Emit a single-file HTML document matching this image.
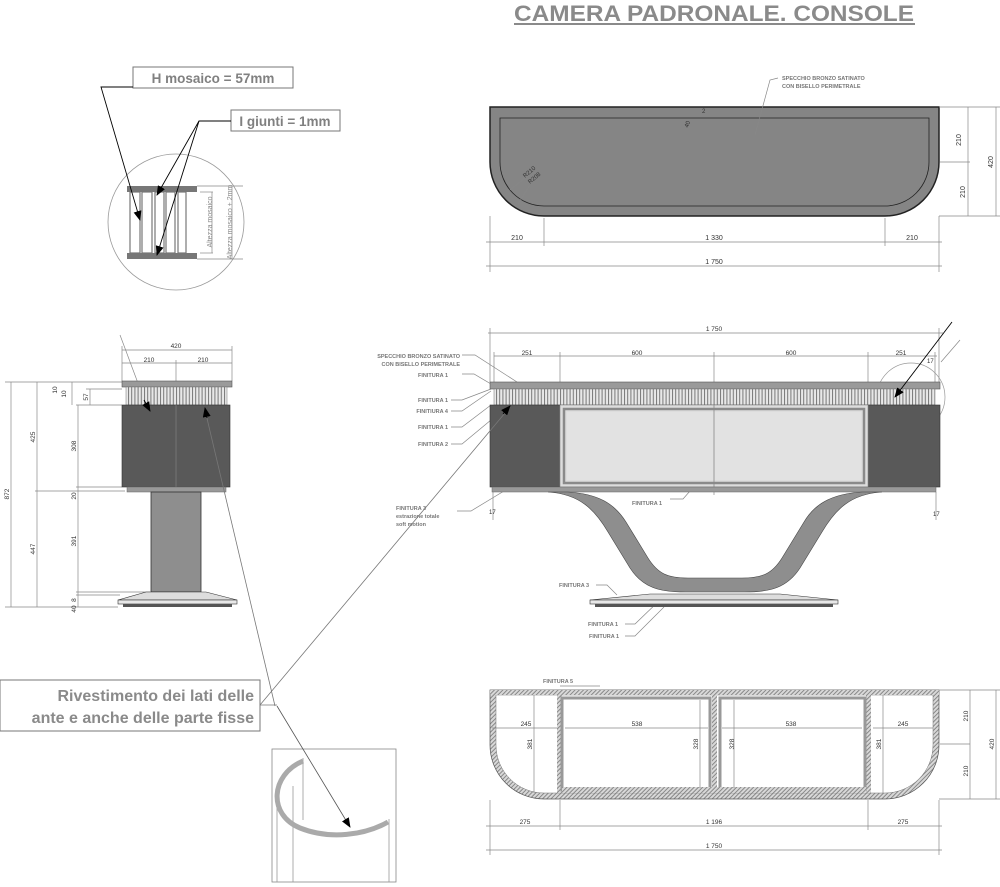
<!DOCTYPE html>
<html><head><meta charset="utf-8"><style>
html,body{margin:0;padding:0;background:#fff;}
svg{display:block;font-family:"Liberation Sans",Arial,sans-serif;}
</style></head><body>
<svg width="1000" height="887" viewBox="0 0 1000 887" xmlns="http://www.w3.org/2000/svg">
<defs>
<pattern id="flute" width="3.2" height="20" patternUnits="userSpaceOnUse">
<rect width="3.2" height="20" fill="#e8e8e8"/><rect x="0" width="1" height="20" fill="#777"/>
</pattern>
<pattern id="hatch" width="3" height="3" patternUnits="userSpaceOnUse" patternTransform="rotate(45)">
<rect width="3" height="3" fill="#d8d8d8"/><rect width="1" height="3" fill="#888"/>
</pattern>
<marker id="ar" markerWidth="10" markerHeight="8" refX="9" refY="4" orient="auto" markerUnits="userSpaceOnUse"><path d="M0,0 L10,4 L0,8 Z" fill="#000"/></marker>
</defs>

<text x="514" y="21" font-size="22" font-weight="bold" fill="#8a8a8a" textLength="400" lengthAdjust="spacingAndGlyphs">CAMERA PADRONALE. CONSOLE</text>
<rect x="514" y="23" width="401" height="2" fill="#8a8a8a"/>

<!-- ===== TOP VIEW ===== -->
<path d="M490,107 L939,107 L939,162 A54,54 0 0 1 885,216 L544,216 A54,54 0 0 1 490,162 Z" fill="#858585" stroke="#222" stroke-width="1.5"/>
<path d="M500,118 L929,118 L929,162 A44,44 0 0 1 885,206 L544,206 A44,44 0 0 1 500,162 Z" fill="none" stroke="#222" stroke-width="0.8"/>
<g fill="#777" font-size="5.5" font-weight="bold">
<text x="782" y="80">SPECCHIO BRONZO SATINATO</text>
<text x="782" y="88">CON BISELLO  PERIMETRALE</text>
</g>
<g stroke="#888" stroke-width="0.7" fill="none">
<path d="M778,78 L770,80 L755,135"/>
<line x1="939" y1="107" x2="1000" y2="107"/><line x1="939" y1="216" x2="1000" y2="216"/>
<line x1="940" y1="162" x2="970" y2="162"/>
<line x1="968" y1="107" x2="968" y2="216"/><line x1="996" y1="107" x2="996" y2="216"/>
<line x1="544" y1="218" x2="544" y2="246"/><line x1="885" y1="218" x2="885" y2="246"/>
<line x1="490" y1="216" x2="490" y2="272"/><line x1="939" y1="216" x2="939" y2="272"/>
<line x1="486" y1="242" x2="942" y2="242"/><line x1="486" y1="266" x2="942" y2="266"/>
<line x1="510" y1="190" x2="525" y2="178"/><line x1="518" y1="204" x2="530" y2="185"/>
</g>
<g fill="#333" font-size="7">
<text x="961" y="140" transform="rotate(-90 961 140)" text-anchor="middle">210</text>
<text x="961" y="188" transform="rotate(-90 965 188)" text-anchor="middle">210</text>
<text x="993" y="162" transform="rotate(-90 993 162)" text-anchor="middle">420</text>
<text x="517" y="240" text-anchor="middle">210</text>
<text x="714" y="240" text-anchor="middle">1 330</text>
<text x="912" y="240" text-anchor="middle">210</text>
<text x="714" y="264" text-anchor="middle">1 750</text>
<text x="525" y="178" font-size="6" transform="rotate(-40 525 178)">R210</text>
<text x="530" y="184" font-size="6" transform="rotate(-40 530 184)">R208</text>
<text x="688" y="128" font-size="6" transform="rotate(-70 688 128)">40</text>
<text x="702" y="113" font-size="6">2</text>
</g>

<!-- ===== DETAIL CIRCLE TOP LEFT ===== -->
<circle cx="176" cy="222" r="68" fill="#fff" stroke="#999" stroke-width="0.8"/>
<g>
<rect x="127" y="186" width="70" height="6" fill="#777"/>
<rect x="127" y="253" width="70" height="6" fill="#777"/>
<line x1="197" y1="186" x2="243" y2="186" stroke="#888" stroke-width="0.7"/>
<line x1="197" y1="259" x2="243" y2="259" stroke="#888" stroke-width="0.7"/>
<g fill="none" stroke="#777" stroke-width="1.2">
<rect x="130" y="192" width="10" height="61"/><rect x="142" y="192" width="10" height="61"/>
<rect x="155" y="192" width="9" height="61"/><rect x="166" y="192" width="9" height="61"/>
<rect x="178" y="192" width="8" height="61"/>
</g>
<line x1="200" y1="192" x2="213" y2="192" stroke="#888" stroke-width="0.7"/>
<line x1="200" y1="253" x2="213" y2="253" stroke="#888" stroke-width="0.7"/>
<line x1="212" y1="192" x2="212" y2="253" stroke="#888" stroke-width="0.7"/>
<line x1="232" y1="186" x2="232" y2="259" stroke="#888" stroke-width="0.7"/>
<text x="212" y="222" font-size="7" fill="#888" transform="rotate(-90 212 222)" text-anchor="middle">Altezza mosaico</text>
<text x="232" y="222" font-size="7" fill="#888" transform="rotate(-90 232 222)" text-anchor="middle">Altezza mosaico + 2mm</text>
</g>
<rect x="133" y="67" width="160" height="21" fill="#fff" stroke="#777" stroke-width="1"/>
<text x="213" y="83" font-size="13.5" font-weight="bold" fill="#808080" text-anchor="middle">H mosaico = 57mm</text>
<rect x="231" y="110" width="109" height="21" fill="#fff" stroke="#777" stroke-width="1"/>
<text x="285" y="126" font-size="13.5" font-weight="bold" fill="#808080" text-anchor="middle">I giunti = 1mm</text>
<g stroke="#000" stroke-width="0.9" fill="none">
<polyline points="133,87 101,87 140,220" marker-end="url(#ar)"/>
<polyline points="231,121 199,121 157,195" marker-end="url(#ar)"/>
<line x1="199" y1="121" x2="157" y2="255" marker-end="url(#ar)"/>
</g>

<!-- ===== SIDE VIEW ===== -->
<g stroke="#888" stroke-width="0.7" fill="none">
<line x1="122" y1="350" x2="232" y2="350"/><line x1="122" y1="363" x2="232" y2="363"/>
<line x1="122" y1="346" x2="122" y2="381"/><line x1="232" y1="346" x2="232" y2="381"/><line x1="176" y1="360" x2="176" y2="487"/>
<line x1="11" y1="382" x2="11" y2="607"/><line x1="37" y1="382" x2="37" y2="607"/>
<line x1="78" y1="405" x2="78" y2="607"/><line x1="90" y1="389" x2="90" y2="405"/>
<line x1="72" y1="382" x2="72" y2="405"/>
<line x1="5" y1="382" x2="122" y2="382"/><line x1="5" y1="607" x2="118" y2="607"/>
<line x1="35" y1="491" x2="125" y2="491"/>
<line x1="76" y1="405" x2="122" y2="405"/><line x1="76" y1="487" x2="122" y2="487"/>
<line x1="76" y1="592" x2="150" y2="592"/><line x1="76" y1="595" x2="120" y2="595"/>
<line x1="86" y1="389" x2="122" y2="389"/>
<line x1="120" y1="335" x2="148" y2="410"/>
</g>
<g fill="#333" font-size="6.5">
<text x="176" y="348" text-anchor="middle">420</text>
<text x="149" y="362" text-anchor="middle">210</text><text x="203" y="362" text-anchor="middle">210</text>
<text x="9" y="494" transform="rotate(-90 9 494)" text-anchor="middle">872</text>
<text x="35" y="437" transform="rotate(-90 35 437)" text-anchor="middle">425</text>
<text x="35" y="549" transform="rotate(-90 35 549)" text-anchor="middle">447</text>
<text x="76" y="446" transform="rotate(-90 76 446)" text-anchor="middle">308</text>
<text x="76" y="541" transform="rotate(-90 76 541)" text-anchor="middle">391</text>
<text x="76" y="496" transform="rotate(-90 76 496)" text-anchor="middle">20</text>
<text x="88" y="397" transform="rotate(-90 88 397)" text-anchor="middle">57</text>
<text x="57" y="390" transform="rotate(-90 57 390)" text-anchor="middle">10</text>
<text x="66" y="394" transform="rotate(-90 66 394)" text-anchor="middle">10</text>
<text x="76" y="600" transform="rotate(-90 76 600)" text-anchor="middle">8</text>
<text x="76" y="609" transform="rotate(-90 76 609)" text-anchor="middle">40</text>
</g>
<rect x="122" y="381" width="110" height="6" fill="#9a9a9a" stroke="#555" stroke-width="0.6"/>
<rect x="126" y="387" width="101" height="18" fill="url(#flute)" stroke="#777" stroke-width="0.5"/>
<rect x="122" y="405" width="108" height="82" fill="#595959" stroke="#333" stroke-width="0.6"/>
<line x1="176" y1="405" x2="176" y2="487" stroke="#888" stroke-width="0.6"/>
<rect x="127" y="487" width="99" height="5" fill="#999" stroke="#666" stroke-width="0.5"/>
<rect x="151" y="492" width="50" height="100" fill="#8e8e8e" stroke="#333" stroke-width="0.8"/>
<path d="M146,592 L206,592 L237,600 L118,600 Z" fill="#ddd" stroke="#333" stroke-width="0.6"/>
<rect x="118" y="600" width="119" height="4" fill="#e8e8e8" stroke="#333" stroke-width="0.6"/>
<rect x="123" y="604" width="109" height="3" fill="#555"/>
<g stroke="#000" stroke-width="0.9"><line x1="144" y1="400" x2="150" y2="411" marker-end="url(#ar)"/></g>

<!-- ===== FRONT VIEW ===== -->
<g stroke="#888" stroke-width="0.7" fill="none">
<line x1="488" y1="333" x2="943" y2="333"/><line x1="494" y1="356" x2="937" y2="356"/>
<line x1="490" y1="328" x2="490" y2="382"/><line x1="939" y1="328" x2="939" y2="382"/>
<line x1="494" y1="352" x2="494" y2="382"/><line x1="560" y1="352" x2="560" y2="405"/>
<line x1="714" y1="352" x2="714" y2="495"/><line x1="868" y1="352" x2="868" y2="405"/>
<line x1="935" y1="352" x2="935" y2="382"/>
<line x1="493" y1="492" x2="493" y2="520"/><line x1="936" y1="492" x2="936" y2="520"/>
<circle cx="911" cy="397" r="34" stroke="#999"/>
<line x1="941" y1="362" x2="960" y2="340"/>
<path d="M462,355 L475,355 L517,382"/>
<path d="M462,374 L474,374 L491,384"/>
<path d="M451,400 L462,400 L491,389"/>
<path d="M451,411 L462,411 L491,391"/>
<path d="M451,427 L462,427 L491,405"/>
<path d="M451,444 L462,444 L497,415"/>
<path d="M457,511 L471,511 L575,448"/>
<path d="M670,499 L683,499 L690,491"/>
<path d="M596,585 L607,585 L617,595"/>
<path d="M625,624 L635,624 L662,598"/>
<path d="M625,636 L635,636 L664,607"/>
</g>
<g fill="#333" font-size="6.5">
<text x="714" y="331" text-anchor="middle">1 750</text>
<text x="527" y="355" text-anchor="middle">251</text>
<text x="637" y="355" text-anchor="middle">600</text>
<text x="791" y="355" text-anchor="middle">600</text>
<text x="901" y="355" text-anchor="middle">251</text>
<text x="927" y="363" font-size="6">17</text>
<text x="929" y="399" font-size="6">3</text>
<text x="489" y="514" font-size="6">17</text><text x="933" y="516" font-size="6">17</text>
</g>
<g fill="#777" font-size="5.5" font-weight="bold">
<text x="460" y="358" text-anchor="end">SPECCHIO BRONZO SATINATO</text>
<text x="460" y="366" text-anchor="end">CON BISELLO  PERIMETRALE</text>
<text x="448" y="377" text-anchor="end">FINITURA 1</text>
<text x="448" y="402" text-anchor="end">FINITURA 1</text>
<text x="448" y="413" text-anchor="end">FINITIURA 4</text>
<text x="448" y="429" text-anchor="end">FINITURA 1</text>
<text x="448" y="446" text-anchor="end">FINITURA 2</text>
<text x="396" y="510">FINITURA 3</text>
<text x="396" y="518">estrazione totale</text>
<text x="396" y="526">soft motion</text>
<text x="632" y="505">FINITURA 1</text>
<text x="559" y="587">FINITURA 3</text>
<text x="588" y="626">FINITURA 1</text>
<text x="589" y="638">FINITURA 1</text>
</g>
<rect x="490" y="382" width="450" height="7" fill="#9a9a9a" stroke="#555" stroke-width="0.6"/>
<rect x="494" y="389" width="441" height="16" fill="url(#flute)" stroke="#777" stroke-width="0.5"/>
<rect x="490" y="405" width="450" height="82" fill="#595959" stroke="#333" stroke-width="0.6"/>
<rect x="560" y="405" width="308" height="82" fill="#ddd" stroke="#888" stroke-width="0.6"/>
<rect x="564" y="409" width="300" height="74" fill="none" stroke="#8a8a8a" stroke-width="2.5"/>
<rect x="567" y="412" width="294" height="68" fill="#e2e2e2"/>
<line x1="714" y1="405" x2="714" y2="487" stroke="#888" stroke-width="0.8"/>
<rect x="492" y="487" width="444" height="5" fill="#999" stroke="#666" stroke-width="0.5"/>
<path d="M548,492 C580,494 595,510 608,532 L630,568 C643,588 660,592 685,592 L745,592 C770,592 787,588 800,568 L822,532 C835,510 850,494 882,492 L862,492 C830,494 814,505 804,522 L782,558 C772,574 762,578 742,578 L688,578 C668,578 658,574 648,558 L626,522 C614,503 598,494 568,492 Z" fill="#8e8e8e" stroke="#444" stroke-width="0.6"/>
<path d="M650,594 L780,594 L838,600 L590,600 Z" fill="#ddd" stroke="#333" stroke-width="0.6"/>
<rect x="590" y="600" width="248" height="4" fill="#e8e8e8" stroke="#333" stroke-width="0.6"/>
<rect x="595" y="604" width="238" height="3" fill="#555"/>
<g stroke="#000" stroke-width="0.9"><line x1="952" y1="322" x2="895" y2="397" marker-end="url(#ar)"/>
<line x1="260" y1="705" x2="510" y2="407" stroke="#777" stroke-width="0.8"/>
<line x1="503" y1="414" x2="510" y2="406" marker-end="url(#ar)"/>
<line x1="275" y1="706" x2="205" y2="410" stroke="#777" stroke-width="0.8"/>
<line x1="207" y1="418" x2="205" y2="408" marker-end="url(#ar)"/>
</g>

<!-- ===== PLAN SECTION ===== -->
<path d="M490,690 L939,690 L939,745 A54,54 0 0 1 885,799 L544,799 A54,54 0 0 1 490,745 Z" fill="url(#hatch)" stroke="#555" stroke-width="0.7"/>
<path d="M496,695 L933,695 L933,745 A48,48 0 0 1 885,793 L544,793 A48,48 0 0 1 496,745 Z" fill="#fff" stroke="#777" stroke-width="0.5"/>
<rect x="490" y="690" width="449" height="5" fill="url(#hatch)"/>
<rect x="557" y="695" width="5" height="98" fill="url(#hatch)"/>
<rect x="866" y="695" width="5" height="98" fill="url(#hatch)"/>
<rect x="712" y="695" width="5" height="95" fill="url(#hatch)"/>
<rect x="562" y="698" width="148" height="92" fill="none" stroke="#999" stroke-width="3"/>
<rect x="720" y="698" width="145" height="92" fill="none" stroke="#999" stroke-width="3"/>
<rect x="562" y="787" width="304" height="6" fill="url(#hatch)"/>
<g stroke="#888" stroke-width="0.7" fill="none">
<line x1="939" y1="690" x2="1000" y2="690"/><line x1="939" y1="799" x2="1000" y2="799"/>
<line x1="940" y1="744" x2="970" y2="744"/>
<line x1="970" y1="690" x2="970" y2="799"/><line x1="996" y1="690" x2="996" y2="799"/>
<line x1="492" y1="728" x2="557" y2="728"/><line x1="565" y1="728" x2="708" y2="728"/>
<line x1="722" y1="728" x2="862" y2="728"/><line x1="873" y1="728" x2="933" y2="728"/>
<line x1="534" y1="695" x2="534" y2="793"/><line x1="883" y1="695" x2="883" y2="793"/>
<line x1="700" y1="700" x2="700" y2="788"/><line x1="734" y1="700" x2="734" y2="788"/>
<line x1="560" y1="800" x2="560" y2="830"/><line x1="868" y1="800" x2="868" y2="830"/>
<line x1="490" y1="800" x2="490" y2="855"/><line x1="939" y1="800" x2="939" y2="855"/>
<line x1="486" y1="826" x2="942" y2="826"/><line x1="486" y1="850" x2="942" y2="850"/>
<line x1="560" y1="686" x2="600" y2="686"/>
</g>
<g fill="#333" font-size="6.5">
<text x="526" y="726" text-anchor="middle">245</text>
<text x="637" y="726" text-anchor="middle">538</text>
<text x="791" y="726" text-anchor="middle">538</text>
<text x="903" y="726" text-anchor="middle">245</text>
<text x="532" y="744" transform="rotate(-90 532 744)" text-anchor="middle">381</text>
<text x="881" y="744" transform="rotate(-90 881 744)" text-anchor="middle">381</text>
<text x="698" y="744" transform="rotate(-90 698 744)" text-anchor="middle">328</text>
<text x="734" y="744" transform="rotate(-90 734 744)" text-anchor="middle">328</text>
<text x="968" y="716" transform="rotate(-90 968 716)" text-anchor="middle">210</text>
<text x="968" y="771" transform="rotate(-90 968 771)" text-anchor="middle">210</text>
<text x="994" y="744" transform="rotate(-90 994 744)" text-anchor="middle">420</text>
<text x="525" y="824" text-anchor="middle">275</text>
<text x="714" y="824" text-anchor="middle">1 196</text>
<text x="903" y="824" text-anchor="middle">275</text>
<text x="714" y="848" text-anchor="middle">1 750</text>
</g>
<text x="543" y="683" fill="#777" font-size="5.5" font-weight="bold">FINITURA 5</text>

<!-- ===== BOTTOM LEFT ===== -->
<rect x="0" y="680" width="260" height="51" fill="#fff" stroke="#777" stroke-width="1"/>
<text x="254" y="701" font-size="16" font-weight="bold" fill="#8a8a8a" text-anchor="end">Rivestimento dei lati delle</text>
<text x="254" y="723" font-size="16" font-weight="bold" fill="#8a8a8a" text-anchor="end">ante e anche delle parte fisse</text>
<line x1="260" y1="705" x2="277" y2="705" stroke="#777" stroke-width="0.8"/>
<rect x="272" y="749" width="124" height="133" fill="#fff" stroke="#888" stroke-width="0.8"/>
<g stroke="#999" stroke-width="0.8" fill="none">
<line x1="277" y1="790" x2="277" y2="882"/><line x1="293" y1="786" x2="293" y2="882"/>
<line x1="303" y1="758" x2="303" y2="820"/><line x1="389" y1="819" x2="389" y2="882"/>
</g>
<path d="M303,761 C270,775 268,815 300,828 C330,840 365,835 388,822" fill="none" stroke="#aaa" stroke-width="5"/>
<line x1="277" y1="706" x2="350" y2="827" stroke="#555" stroke-width="0.8" marker-end="url(#ar)"/>
</svg>
</body></html>
